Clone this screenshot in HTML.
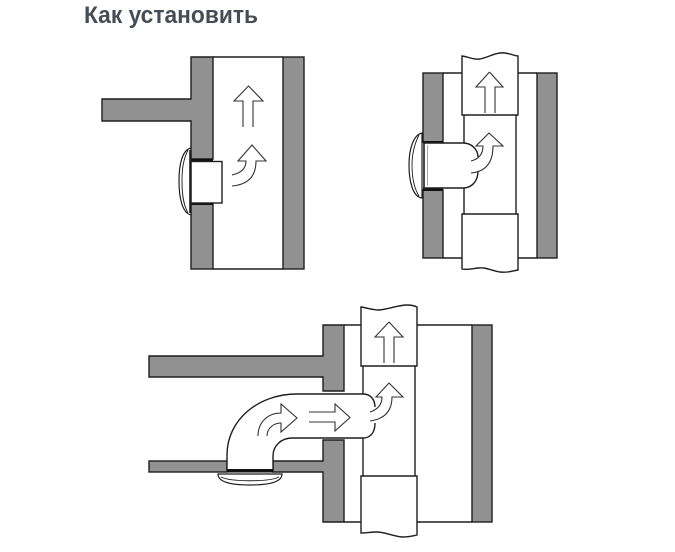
<!DOCTYPE html>
<html>
<head>
<meta charset="utf-8">
<style>
  html,body{margin:0;padding:0;background:#fff;}
  body{width:675px;height:552px;overflow:hidden;}
  svg{display:block;}
</style>
</head>
<body>
<svg width="675" height="552" viewBox="0 0 675 552" xmlns="http://www.w3.org/2000/svg">
  <text x="84" y="23" font-family="Liberation Sans, Arial, sans-serif" font-weight="bold" font-size="24" fill="#474d55" textLength="174" lengthAdjust="spacingAndGlyphs">Как установить</text>

  <g stroke="#1e1e1e" stroke-width="1.4" stroke-linejoin="miter">
    <!-- ===== Diagram 1 ===== -->
    <path d="M191,57 H213 V159 H191 V121 H102 V99 H191 Z" fill="#919191"/>
    <rect x="191" y="204" width="22" height="65" fill="#919191"/>
    <rect x="283" y="57" width="21" height="212" fill="#919191"/>
    <line x1="213" y1="57" x2="283" y2="57"/>
    <line x1="213" y1="269" x2="283" y2="269"/>
    <rect x="191" y="159" width="22" height="46" fill="#111" stroke="none"/>
    <rect x="191" y="161.5" width="31" height="41.5" fill="#fff"/>
    <!-- grill 1 -->
    <path d="M191,148 C182,150 179,165 179,181 C179,197 182,213 191,215 Z" fill="#fff" stroke-width="1.2"/>
    <path d="M188,150 C183,160 182,170 182,181 C182,193 183,204 188,213" fill="none" stroke-width="0.9"/>
    <line x1="190" y1="150" x2="190" y2="213" stroke-width="1.6"/>
    <!-- arrows 1 -->
    <path d="M243,127 V101 H234 L248.5,86 L263,101 H253 V127" fill="none" stroke="#333" stroke-width="1.1"/>
    <path d="M232,175 Q246,172 246,161 L238,161 L252,145 L266,161 L256,161 Q256,184 232,186" fill="none" stroke="#333" stroke-width="1.1"/>

    <!-- ===== Diagram 2 ===== -->
    <rect x="423" y="73" width="20" height="69" fill="#919191"/>
    <rect x="423" y="190" width="20" height="68" fill="#919191"/>
    <rect x="537" y="73" width="20" height="185" fill="#919191"/>
    <line x1="443" y1="73" x2="462" y2="73"/>
    <line x1="518" y1="73" x2="537" y2="73"/>
    <line x1="443" y1="258" x2="462" y2="258"/>
    <line x1="518" y1="258" x2="537" y2="258"/>
    <line x1="464" y1="115" x2="464" y2="214"/>
    <line x1="516" y1="115" x2="516" y2="214"/>
    <path d="M462,115 V56 C470,57 472,60 480,59 C490,57 495,52 505,53 C512,54 515,56 518,56 V115 Z" fill="#fff"/>
    <path d="M462,214 H518 V270 C512,271 508,273 500,272 C490,270 485,267 478,268 C470,269 466,270 462,269 Z" fill="#fff"/>
    <path d="M489.5,72 L503,87 H495 V113 M485,113 V87 H476 L489.5,72" fill="none" stroke="#333" stroke-width="1.1"/>
    <rect x="423" y="141" width="20" height="50" fill="#111" stroke="none"/>
    <path d="M423,143 H463 C472,143 478,150 478,158 V172 C478,181 472,188 463,188 H423 Z" fill="#fff" stroke="none"/>
    <path d="M423,143 H463 C472,143 478,150 478,157 M478,171 C478,181 472,188 463,188 H423" fill="none"/>
    <line x1="424" y1="142" x2="424" y2="189" stroke-width="1.6"/>
    <line x1="427.5" y1="145" x2="427.5" y2="186" stroke="#aaa" stroke-width="1"/>
    <!-- grill 2 -->
    <path d="M422,133 C413,135 409,150 409,165 C409,182 413,197 422,198 Z" fill="#fff" stroke-width="1.2"/>
    <path d="M419,135 C414,145 412,155 412,165 C412,177 414,188 419,196" fill="none" stroke-width="0.9"/>
    <path d="M471,161 Q483,158 483,146 L476,146 L489,133 L503,146 L493,146 Q493,171 471,173" fill="none" stroke="#333" stroke-width="1.1"/>

    <!-- ===== Diagram 3 ===== -->
    <path d="M149,356 H323 V325 H344 V391 H323 V377 H149 Z" fill="#919191"/>
    <path d="M273,461 H323 V440 H344 V522 H323 V472 H273 Z" fill="#919191"/>
    <rect x="149" y="461" width="78" height="11" fill="#919191"/>
    <rect x="472" y="325" width="20" height="197" fill="#919191"/>
    <line x1="344" y1="325" x2="361" y2="325"/>
    <line x1="417" y1="325" x2="472" y2="325"/>
    <line x1="344" y1="522" x2="361" y2="522"/>
    <line x1="417" y1="522" x2="472" y2="522"/>
    <line x1="363" y1="366" x2="363" y2="476"/>
    <line x1="415" y1="366" x2="415" y2="476"/>
    <path d="M361,366 V307 C368,308 372,310 379,310 C390,309 398,305 407,305 C412,305 415,306 417,307 V366 Z" fill="#fff"/>
    <path d="M361,476 H417 V535 C412,536 408,537 402,537 C392,536 385,532 377,532 C370,532 366,533 361,533 Z" fill="#fff"/>
    <path d="M389,322 L403,337 H394 V363 M384,363 V337 H375 L389,322" fill="none" stroke="#333" stroke-width="1.1"/>
    <!-- elbow tube -->
    <path d="M227,470 V455 C227,420 258,394 297,394 H363 C371,394 376,400 376,408 V424 C376,432 371,438 363,438 H292 C281,438 273,446 273,456 V470 Z" fill="#fff" stroke="none"/>
    <path d="M227,470 V455 C227,420 258,394 297,394 H363 C371,394 375,400 375,407 M375,423 C375,432 371,438 363,438 H292 C281,438 273,446 273,456 V470" fill="none"/>
    <rect x="227" y="469" width="46" height="3.5" fill="#111" stroke="none"/>
    <!-- grill 3 -->
    <path d="M218,474 C218,482 230,485 250,485 C270,485 282,482 282,474 Z" fill="#fff" stroke-width="1.2"/>
    <path d="M221,477 C231,482 269,482 279,477" fill="none" stroke-width="0.9"/>
    <!-- arrows in tube -->
    <path d="M258,436 C258,422 268,413 281,413 L281,404 L297,418 L281,432 L281,423 C274,423 267,428 267,436" fill="none" stroke="#333" stroke-width="1.1"/>
    <path d="M309,412 H335 V404 L350,417.5 L335,431 V422 H309" fill="none" stroke="#333" stroke-width="1.1"/>
    <path d="M370,412 Q382,408 382,397 L376,397 L389,383 L403,397 L392,397 Q392,418 370,421" fill="none" stroke="#333" stroke-width="1.1"/>
  </g>
</svg>
</body>
</html>
